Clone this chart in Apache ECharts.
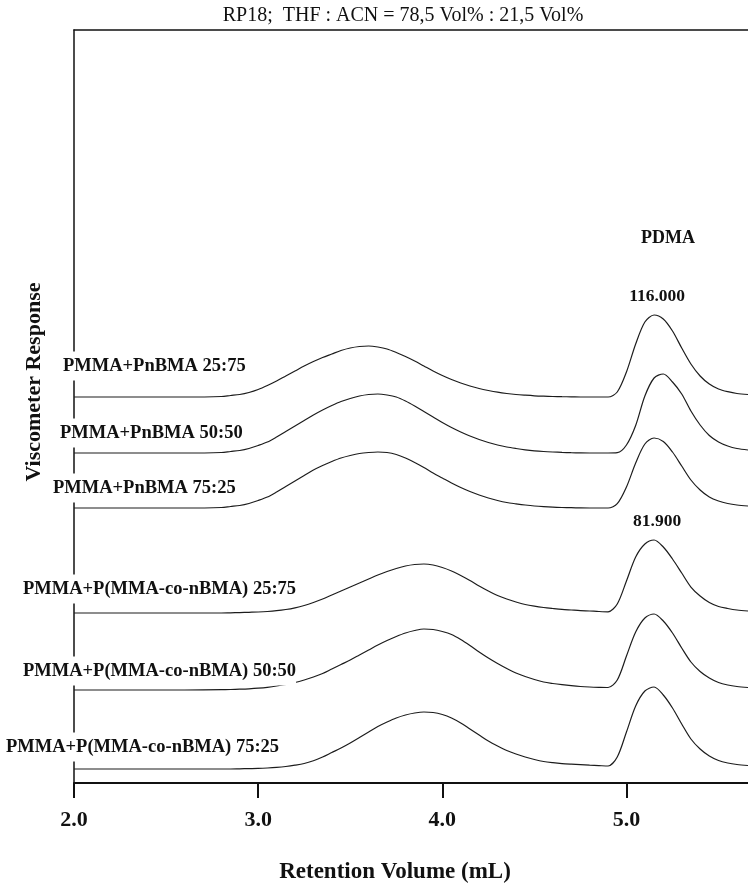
<!DOCTYPE html>
<html>
<head>
<meta charset="utf-8">
<script src="https://cdn.jsdelivr.net/npm/echarts@6/dist/echarts.min.js"></script>
<style>
  html, body { margin: 0; padding: 0; background: #fff; }
  #chart { width: 748px; height: 888px; }
</style>
</head>
<body>
<div id="chart"></div>
<script>
// Retention volume grid (mL) shared by all chromatograms
const volumes = [2.0, 2.4, 2.6,
  2.8, 2.85, 2.9, 2.95, 3.0, 3.05, 3.1, 3.15, 3.2, 3.25,
  3.3, 3.35, 3.4, 3.45, 3.5, 3.55, 3.6, 3.65, 3.7, 3.75,
  3.8, 3.85, 3.9, 3.95, 4.0, 4.05, 4.1, 4.15, 4.2, 4.25,
  4.3, 4.35, 4.4, 4.45, 4.5, 4.55, 4.6, 4.65, 4.7, 4.75,
  4.8, 4.85, 4.9,
  4.95, 5.0, 5.05, 5.1, 5.15, 5.2, 5.25, 5.3, 5.35, 5.4, 5.45, 5.5, 5.55, 5.6, 5.66];

const sampleNames = [
  'PMMA+PnBMA 25:75',
  'PMMA+PnBMA 50:50',
  'PMMA+PnBMA 75:25',
  'PMMA+P(MMA-co-nBMA) 25:75',
  'PMMA+P(MMA-co-nBMA) 50:50',
  'PMMA+P(MMA-co-nBMA) 75:25'
];

// Vertical offset of each stacked trace (response units)
const baselines = [386, 330, 275, 170, 93, 14];

// Detector signal above each trace's baseline (response units)
const pnbma2575 = [0, 0, 0,
  0.5, 1.5, 2.5, 4.5, 7.5, 11.5, 16, 21, 26, 31,
  35.5, 39.5, 43, 46.5, 49, 50.5, 51, 50, 48, 44.5,
  40.5, 36, 31, 26, 21.5, 17.5, 14, 11, 8.5, 6.5,
  4.8, 3.5, 2.5, 1.8, 1.2, 0.8, 0.5, 0.3, 0.2, 0,
  0, 0, 0,
  5, 25, 53, 75, 82, 78, 66, 49, 33, 21, 13, 8, 5.3, 3.5, 2.5];
const pnbma5050 = [0, 0, 0,
  0.5, 1.5, 2.5, 4.5, 7.5, 11, 16, 21.5, 27, 32.5,
  38, 43, 47.5, 51.5, 54.5, 57, 58.5, 59, 58, 56,
  52, 47, 41.5, 36, 30.5, 25.5, 21, 17, 13.5, 10.5,
  8, 6, 4.5, 3.2, 2.2, 1.5, 1, 0.6, 0.3, 0.1,
  0, 0, 0,
  0.3, 8, 27.5, 57, 75, 79, 71, 59, 42, 28, 17.5, 11, 7, 4.5, 3];
const pnbma7525 = [0, 0, 0,
  0.5, 1.5, 2.5, 4.5, 7.5, 11, 16, 21.5, 27, 32.5,
  38, 42.5, 46.5, 50, 52.5, 54.5, 55.5, 56, 55.5, 53.5,
  50, 45.5, 40.5, 35, 30, 25, 20.5, 16.5, 13, 10,
  7.5, 5.5, 4.2, 3, 2, 1.3, 0.8, 0.5, 0.3, 0.1,
  0, 0, 0,
  4.3, 21, 45, 64, 70, 66.5, 56, 42, 28, 18, 11, 7, 4.5, 3, 2];
const copo2575 = [0, 0, 0,
  0, 0.2, 0.4, 0.7, 1, 1.5, 2.3, 3.5, 5.2, 7.5,
  10.5, 14, 18, 22, 26, 30, 34, 38, 41.5, 44.5,
  47, 48.5, 49, 48, 45.5, 42, 37.5, 32.5, 27, 22,
  17.5, 14, 11, 8.5, 6.8, 5.5, 4.5, 3.6, 3, 2.4,
  2, 1.5, 1.2,
  9, 32, 56, 69, 73, 66, 54, 40, 26, 17, 10.5, 6.5, 4.5, 3, 2];
const copo5050 = [0, 0, 0,
  0.3, 0.5, 0.8, 1.2, 1.8, 2.7, 4, 5.7, 7.5, 10,
  13, 16.5, 21, 25.5, 30, 35, 40, 45, 49.5, 53.5,
  57, 59.5, 61, 60.5, 58.5, 55.5, 50.5, 44.5, 38, 32,
  26.5, 21.5, 17, 13.5, 10.5, 8, 6.5, 5.3, 4.3, 3.5,
  3, 2.7, 2.5,
  10, 34, 58, 72, 76, 69, 57, 42, 28, 18.5, 12, 7.5, 5, 3.5, 2.5];
const copo7525 = [0, 0, 0,
  0, 0, 0.2, 0.4, 0.6, 1, 1.6, 2.5, 3.8, 5.5,
  8.3, 12, 16.5, 21, 26, 31.5, 37, 42.5, 47, 51,
  54, 56, 57, 56.5, 54.5, 51, 46, 40, 34, 28,
  23, 18.5, 15, 12, 9.5, 7.5, 6.3, 5.4, 4.8, 4.3,
  3.8, 3.4, 3,
  12, 37, 63, 78, 82, 74, 61, 45, 30, 20, 13, 8.5, 6, 4.5, 3.5];

const signals = [pnbma2575, pnbma5050, pnbma7525, copo2575, copo5050, copo7525];

// Molar-mass annotations on the PDMA standard peak
const peakNotes = [{ trace: 0, text: '116.000' }, { trace: 3, text: '81.900' }];

const xTicks = [2, 3, 4, 5];

const serif = '"Liberation Serif", "Times New Roman", serif';
const ink = '#111';

// Index of the PDMA peak maximum (narrow peak after 4.9 mL)
function pdmaPeakIndex(sig) {
  let best = -1;
  for (let i = 0; i < sig.length; i++) {
    if (volumes[i] > 4.9 && (best < 0 || sig[i] > sig[best])) best = i;
  }
  return best;
}

const series = signals.map((sig, k) => {
  const s = {
    name: sampleNames[k],
    type: 'line',
    xAxisIndex: 0,
    yAxisIndex: 0,
    data: volumes.map((v, i) => [v, baselines[k] + sig[i]]),
    showSymbol: false,
    smooth: 0.3,
    lineStyle: { color: '#1c1c1c', width: 1.2 },
    silent: true,
    z: 3
  };
  const note = peakNotes.find(n => n.trace === k);
  if (note) {
    const p = pdmaPeakIndex(sig);
    s.markPoint = {
      symbol: 'circle',
      symbolSize: 0,
      silent: true,
      data: [{ coord: [volumes[p], baselines[k] + sig[p]] }],
      label: {
        show: true,
        formatter: note.text,
        position: 'top',
        distance: 10,
        offset: [3, 0],
        color: ink,
        fontFamily: serif,
        fontWeight: 'bold',
        fontSize: 17.5
      }
    };
  }
  return s;
});

// Sample name labels, placed beside each trace's start (left edge px, centre px)
const nameSpots = [[63, 366], [60, 433], [53, 488], [23, 589], [23, 671], [6, 747]];

const graphics = [
  {
    type: 'text', x: 403, y: 16, z: 100,
    style: { text: 'RP18;  THF : ACN = 78,5 Vol% : 21,5 Vol%', font: '20px ' + serif, fill: ink, align: 'center', verticalAlign: 'middle' }
  },
  {
    type: 'text', x: 668, y: 238, z: 100,
    style: { text: 'PDMA', font: 'bold 18px ' + serif, fill: ink, align: 'center', verticalAlign: 'middle' }
  },
  {
    type: 'text', x: 395, y: 872, z: 100,
    style: { text: 'Retention Volume (mL)', font: 'bold 23px ' + serif, fill: ink, align: 'center', verticalAlign: 'middle' }
  },
  {
    type: 'text', x: 34, y: 382, z: 100, rotation: Math.PI / 2,
    style: { text: 'Viscometer Response', font: 'bold 22px ' + serif, fill: ink, align: 'center', verticalAlign: 'middle' }
  }
].concat(sampleNames.map((n, k) => ({
  type: 'text', x: nameSpots[k][0], y: nameSpots[k][1], z: 100,
  style: {
    text: n, font: 'bold 18.5px ' + serif, fill: ink, align: 'left', verticalAlign: 'middle',
    backgroundColor: '#fff', padding: [5, 0, 5, 0]
  }
})));

const chart = echarts.init(document.getElementById('chart'), null, { renderer: 'canvas' });
chart.setOption({
  animation: false,
  backgroundColor: '#fff',
  grid: { left: 74, right: 0, top: 30, bottom: 105, containLabel: false },
  xAxis: [
    {
      type: 'value',
      min: 2,
      max: 5.66,
      interval: 1,
      position: 'bottom',
      axisLine: { show: true, lineStyle: { color: ink, width: 2 } },
      axisTick: { show: true, inside: false, length: 15, lineStyle: { color: ink, width: 2 }, customValues: xTicks },
      axisLabel: {
        show: true, margin: 26, color: ink, fontFamily: serif, fontWeight: 'bold', fontSize: 22,
        customValues: xTicks,
        formatter: v => v.toFixed(1)
      },
      splitLine: { show: false }
    },
    {
      type: 'value',
      min: 2,
      max: 5.66,
      position: 'top',
      axisLine: { show: true, lineStyle: { color: ink, width: 1.5 } },
      axisTick: { show: false },
      axisLabel: { show: false },
      splitLine: { show: false }
    }
  ],
  yAxis: {
    type: 'value',
    min: 0,
    max: 753,
    axisLine: { show: true, onZero: false, lineStyle: { color: ink, width: 1.5 } },
    axisTick: { show: false },
    axisLabel: { show: false },
    splitLine: { show: false }
  },
  series: series,
  graphic: graphics
});
</script>
</body>
</html>
